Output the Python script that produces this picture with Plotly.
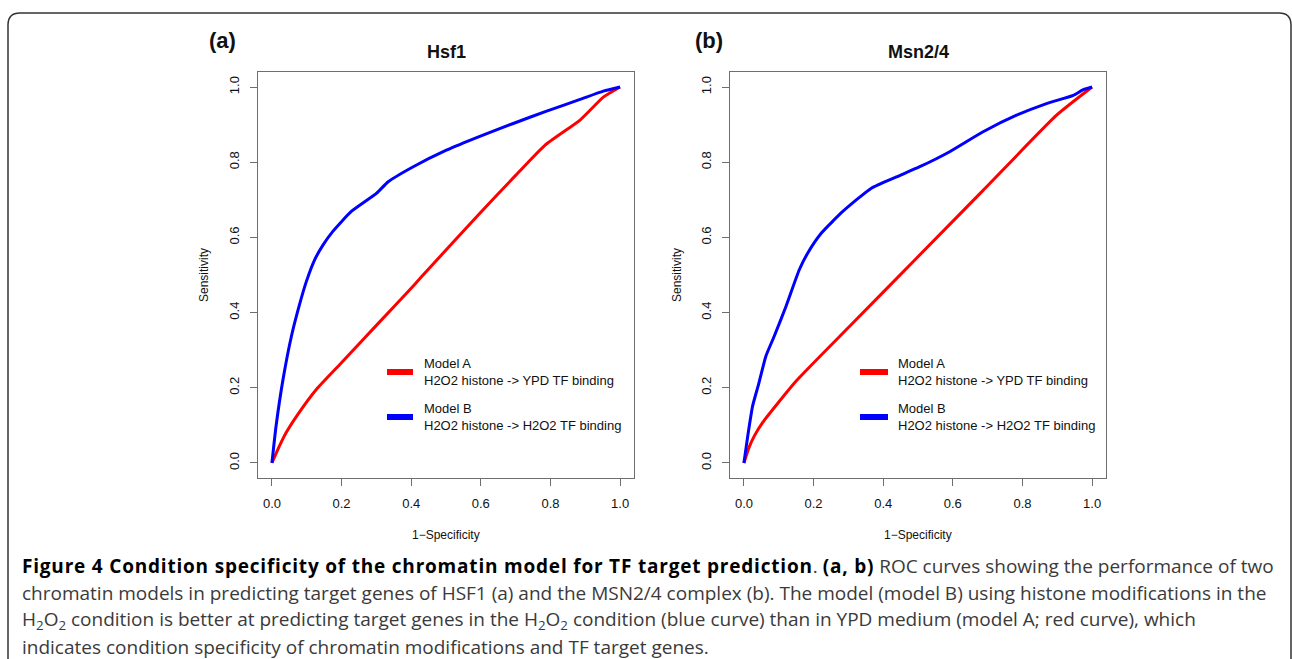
import plotly.graph_objects as go

W, H = 1292, 659

# ---------------- data ----------------
hsf1_a_x = [0.0, 0.022, 0.041, 0.075, 0.128, 0.195, 0.30, 0.406, 0.45, 0.60, 0.70, 0.784, 0.885, 0.952, 1.0]
hsf1_a_y = [0.0, 0.046, 0.081, 0.130, 0.196, 0.262, 0.366, 0.471, 0.516, 0.667, 0.765, 0.845, 0.912, 0.973, 1.0]

hsf1_b_x = [0.0, 0.012, 0.032, 0.056, 0.078, 0.099, 0.123, 0.147, 0.175, 0.228, 0.300, 0.334, 0.406,
            0.501, 0.597, 0.693, 0.789, 0.885, 0.952, 1.0]
hsf1_b_y = [0.0, 0.099, 0.223, 0.337, 0.417, 0.483, 0.541, 0.580, 0.616, 0.669, 0.717, 0.748, 0.788,
            0.832, 0.869, 0.903, 0.936, 0.967, 0.989, 1.0]

msn_a_x = [0.0, 0.015, 0.030, 0.054, 0.150, 0.303, 0.495, 0.687, 0.898, 1.0]
msn_a_y = [0.0, 0.042, 0.072, 0.108, 0.218, 0.363, 0.544, 0.725, 0.925, 1.0]

msn_b_x = [0.0, 0.011, 0.025, 0.042, 0.063, 0.087, 0.121, 0.159, 0.183, 0.222, 0.284, 0.366, 0.438,
           0.505, 0.591, 0.687, 0.783, 0.869, 0.946, 0.975, 1.0]
msn_b_y = [0.0, 0.072, 0.152, 0.209, 0.284, 0.337, 0.417, 0.514, 0.558, 0.611, 0.669, 0.731, 0.761,
           0.788, 0.828, 0.881, 0.925, 0.956, 0.978, 0.993, 1.0]

tick_vals = [0.0, 0.2, 0.4, 0.6, 0.8, 1.0]
tick_text = ["0.0", "0.2", "0.4", "0.6", "0.8", "1.0"]

panel_titles = ["Hsf1", "Msn2/4"]
panel_letters = ["(a)", "(b)"]
legend_names = ["Model A", "Model B"]
legend_desc = ["H2O2 histone -> YPD TF binding", "H2O2 histone -> H2O2 TF binding"]
colors = ["#ff0000", "#0000ff"]

BOLD = "<b><span style='letter-spacing:0.8px'>{}</span></b>"
REG = "<span style='color:#3a3a3a'>{}</span>"
caption_lines = [
    BOLD.format("Figure 4 Condition specificity of the chromatin model for TF target prediction")
    + REG.format(". ") + BOLD.format("(a, b)")
    + REG.format(" ROC curves showing the performance of two"),
    REG.format("chromatin models in predicting target genes of HSF1 (a) and the MSN2/4 complex (b). "
               "The model (model B) using histone modifications in the"),
    REG.format("H<sub>2</sub>O<sub>2</sub> condition is better at predicting target genes in the "
               "H<sub>2</sub>O<sub>2</sub> condition (blue curve) than in YPD medium (model A; red curve), which"),
    REG.format("indicates condition specificity of chromatin modifications and TF target genes."),
]

# ---------------- layout helpers ----------------
def px(x):
    return x / W

def py(y):
    return 1 - y / H

panels = [
    dict(left=258, right=634, xa="x", ya="y", series=[(hsf1_a_x, hsf1_a_y), (hsf1_b_x, hsf1_b_y)],
         letter_x=222, leg_x0=387, leg_x1=413, leg_tx=422, ylab_x=204),
    dict(left=730, right=1106, xa="x2", ya="y2", series=[(msn_a_x, msn_a_y), (msn_b_x, msn_b_y)],
         letter_x=709, leg_x0=860, leg_x1=888, leg_tx=896, ylab_x=677),
]
top, bottom = 72, 478

fig = go.Figure()
annotations = []
shapes = []

axis_font = dict(family="Liberation Sans, Arial, sans-serif", size=13, color="#111")
lab_font = dict(family="Liberation Sans, Arial", size=12, color="#111")

for i, p in enumerate(panels):
    for (xs, ys), c, nm in zip(p["series"], colors, legend_names):
        fig.add_trace(go.Scatter(x=xs, y=ys, mode="lines", name=nm, showlegend=False,
                                 line=dict(color=c, width=3, shape="spline", smoothing=0.5),
                                 xaxis=p["xa"], yaxis=p["ya"], hoverinfo="skip"))
    common = dict(range=[-0.04, 1.04], showgrid=False, zeroline=False, showline=True, mirror=True,
                  linecolor="#6e6e6e", linewidth=1.3, ticks="outside", ticklen=7, tickwidth=1.2,
                  tickcolor="#6e6e6e", tickvals=tick_vals, ticktext=tick_text, tickfont=axis_font,
                  fixedrange=True)
    xkey = "xaxis" if i == 0 else "xaxis2"
    ykey = "yaxis" if i == 0 else "yaxis2"
    fig.update_layout(**{
        xkey: dict(domain=[px(p["left"]), px(p["right"])], anchor=p["ya"], ticklabelstandoff=6, **common),
        ykey: dict(domain=[py(bottom), py(top)], anchor=p["xa"], tickangle=-90, ticklabelstandoff=6, **common),
    })
    cx = (p["left"] + p["right"]) / 2
    annotations += [
        dict(x=px(cx), y=py(52), xref="paper", yref="paper", xanchor="center", yanchor="middle",
             text=f"<b>{panel_titles[i]}</b>", showarrow=False,
             font=dict(family="Liberation Sans, Arial", size=18, color="#111")),
        dict(x=px(p["letter_x"]), y=py(40), xref="paper", yref="paper", xanchor="center", yanchor="middle",
             text=f"<b>{panel_letters[i]}</b>", showarrow=False,
             font=dict(family="Liberation Sans, Arial", size=22, color="#111")),
        dict(x=px(cx), y=py(535), xref="paper", yref="paper", xanchor="center", yanchor="middle",
             text="1\u2212Specificity", showarrow=False, font=lab_font),
        dict(x=px(p["ylab_x"]), y=py(275), xref="paper", yref="paper", xanchor="center", yanchor="middle",
             text="Sensitivity", textangle=-90, showarrow=False, font=lab_font),
    ]
    for k, (yc, c) in enumerate(zip([372, 417], colors)):
        shapes.append(dict(type="line", xref="paper", yref="paper", x0=px(p["leg_x0"]), x1=px(p["leg_x1"]),
                           y0=py(yc), y1=py(yc), line=dict(color=c, width=6)))
        annotations.append(dict(x=px(p["leg_tx"]), y=py(yc), xref="paper", yref="paper", xanchor="left",
                                yanchor="middle", align="left", showarrow=False,
                                text=f"{legend_names[k]}<br>{legend_desc[k]}",
                                font=dict(family="Liberation Sans, Arial", size=13, color="#111")))

# caption
for j, line in enumerate(caption_lines):
    annotations.append(dict(x=px(20), y=py(566 + 27 * j), xref="paper", yref="paper", xanchor="left",
                            yanchor="middle", align="left", showarrow=False, text=line,
                            font=dict(family="Open Sans, sans-serif", size=19, color="#000")))

# rounded border frame
r = 12
x0, x1, yt, yb = 8, 1291, 13, 680
path = (f"M {px(x0)},{py(yb)} L {px(x0)},{py(yt + r)} Q {px(x0)},{py(yt)} {px(x0 + r)},{py(yt)} "
        f"L {px(x1 - r)},{py(yt)} Q {px(x1)},{py(yt)} {px(x1)},{py(yt + r)} L {px(x1)},{py(yb)}")
shapes.append(dict(type="path", xref="paper", yref="paper", path=path, line=dict(color="#333", width=1.5)))

fig.update_layout(width=W, height=H, margin=dict(l=0, r=0, t=0, b=0), paper_bgcolor="white",
                  plot_bgcolor="white", showlegend=False, annotations=annotations, shapes=shapes)

fig.write_html("out.html", config={"displayModeBar": False})
